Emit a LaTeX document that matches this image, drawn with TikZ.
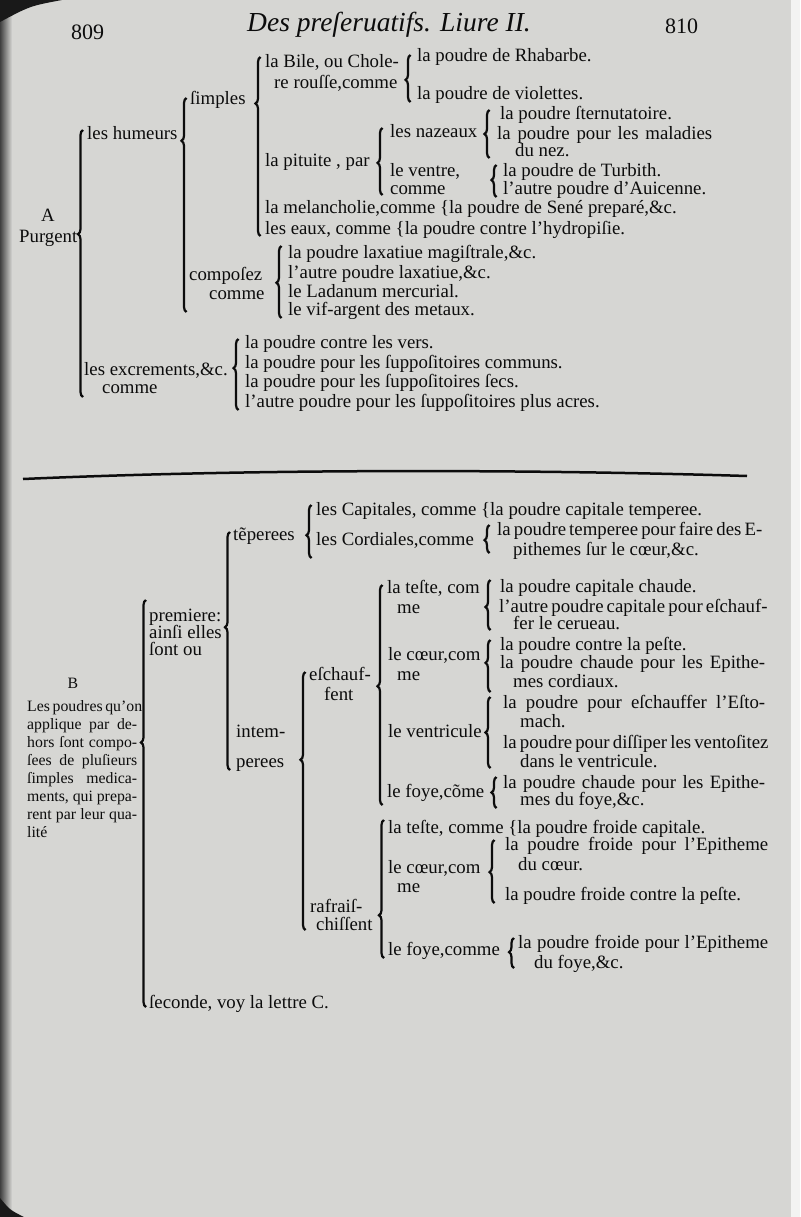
\documentclass[tikz,border=0pt]{standalone}
\usepackage{fontspec}
\setmainfont{Liberation Serif}
\usepackage{xcolor}
\usetikzlibrary{decorations.pathreplacing}

\definecolor{paper}{RGB}{214,214,211}
\definecolor{ink}{RGB}{12,12,12}
\newcommand{\jline}[2]{\makebox[#1][s]{#2}}

\begin{document}
\begin{tikzpicture}[
    x=1pt, y=-1pt,
    txt/.style={anchor=base west, inner sep=0pt, text=ink, font=\fontsize{18.8}{20}\selectfont},
    small/.style={txt, font=\fontsize{15.8}{18}\selectfont},
    brc/.style={decorate, decoration={brace, amplitude=5pt, aspect=#1}, line width=2.2pt, draw=ink},
    brc/.default=0.5
]
\useasboundingbox (0,0) rectangle (800,1217);
\fill[paper] (0,0) rectangle (800,1217);
\shade[left color=black!75, right color=paper] (0,0) rectangle (12,1217);
\fill[black!90] (0,0) -- (62,0) .. controls (30,6) .. (0,22) -- cycle;
\fill[black!90] (0,1217) -- (0,1198) .. controls (10,1210) .. (24,1217) -- cycle;
\fill[white!70!paper] (791,0) rectangle (800,1217);

% running head
\node[txt, font=\fontsize{22}{24}\selectfont] (pg1) at (71,40) {809};
\node[txt, font=\fontsize{27.5}{30}\itshape] (head) at (247,32) {Des preſeruatifs. Liure II.};
\node[txt, font=\fontsize{22}{24}\selectfont] (pg2) at (665,34) {810};

% A : purgent
\node[txt, anchor=base] (A) at (48,222) {A};
\node[txt] (purg) at (19,242) {Purgent};
\node[txt] (hum) at (87,140) {les humeurs};
\node[txt] (simp) at (190,105) {ſimples};
\node[txt] (bile1) at (265,68) {la Bile, ou Chole-};
\node[txt] (bile2) at (274,89) {re rouſſe,comme};
\node[txt] (rhab) at (417,62) {la poudre de Rhabarbe.};
\node[txt] (viol) at (417,100) {la poudre de violettes.};
\node[txt] (pit) at (265,167) {la pituite , par};
\node[txt] (naz) at (390,138) {les nazeaux};
\node[txt] (stern) at (500,120) {la poudre ſternutatoire.};
\node[txt] (mal) at (497,140) {\jline{215pt}{la poudre pour les maladies}};
\node[txt] (nez) at (515,157) {du nez.};
\node[txt] (ven1) at (390,177) {le ventre,};
\node[txt] (ven2) at (390,194) {comme};
\node[txt] (turb) at (503,176) {la poudre de Turbith.};
\node[txt] (auic) at (503,194) {l'autre poudre d'Auicenne.};
\node[txt] (mel) at (265,213) {la melancholie,comme \{la poudre de Sené preparé,\&c.};
\node[txt] (eaux) at (265,234) {les eaux, comme \{la poudre contre l'hydropiſie.};
\node[txt] (comp1) at (189,280) {compoſez};
\node[txt] (comp2) at (209,299) {comme};
\node[txt] (lax1) at (288,258) {la poudre laxatiue magiſtrale,\&c.};
\node[txt] (lax2) at (288,278) {l'autre poudre laxatiue,\&c.};
\node[txt] (lad) at (288,297) {le Ladanum mercurial.};
\node[txt] (vif) at (288,315) {le vif-argent des metaux.};
\node[txt] (exc1) at (84,375) {les excrements,\&c.};
\node[txt] (exc2) at (102,393) {comme};
\node[txt] (vers) at (245,348) {la poudre contre les vers.};
\node[txt] (comm) at (245,368) {la poudre pour les ſuppoſitoires communs.};
\node[txt] (secs) at (245,387) {la poudre pour les ſuppoſitoires ſecs.};
\node[txt] (acres) at (245,407) {l'autre poudre pour les ſuppoſitoires plus acres.};

\coordinate (aB) at (83,397);     \coordinate (aT) at (83,130);
\coordinate (humB) at (186.5,312); \coordinate (humT) at (186.5,98);
\coordinate (simpB) at (260.5,236); \coordinate (simpT) at (260.5,57);
\coordinate (bileB) at (410.5,102); \coordinate (bileT) at (410.5,55);
\coordinate (nazB) at (489.5,158); \coordinate (nazT) at (489.5,110);
\coordinate (pitB) at (382.5,195); \coordinate (pitT) at (382.5,128);
\coordinate (venB) at (496.5,197); \coordinate (venT) at (496.5,165);
\coordinate (compB) at (281.5,318); \coordinate (compT) at (281.5,246);
\coordinate (excB) at (238.5,410); \coordinate (excT) at (238.5,339);

\draw[brc=0.61] (aB) -- (aT);
\draw[brc=0.80] (humB) -- (humT);
\draw[brc=0.74] (simpB) -- (simpT);
\draw[brc=0.47] (bileB) -- (bileT);
\draw[brc=0.50] (nazB) -- (nazT);
\draw[brc=0.48] (pitB) -- (pitT);
\draw[brc=0.53] (venB) -- (venT);
\draw[brc=0.49] (compB) -- (compT);
\draw[brc=0.59] (excB) -- (excT);

% rule
\coordinate (ruleL) at (23,479);
\coordinate (ruleR) at (747,476);
\draw[ink, line width=2.5pt] (ruleL) .. controls (250,469) and (520,469) .. (ruleR);

% B : poudres appliquees par dehors
\node[small, anchor=base] (B) at (73,688) {B};
\node[small] (bp1) at (27,711) {\jline{110pt}{Les poudres qu'on}};
\node[small] (bp2) at (27,729) {\jline{110pt}{applique par de-}};
\node[small] (bp3) at (27,747) {\jline{110pt}{hors ſont compo-}};
\node[small] (bp4) at (27,765) {\jline{110pt}{ſees de pluſieurs}};
\node[small] (bp5) at (27,783) {\jline{110pt}{ſimples medica-}};
\node[small] (bp6) at (27,801) {\jline{110pt}{ments, qui prepa-}};
\node[small] (bp7) at (27,819) {\jline{110pt}{rent par leur qua-}};
\node[small] (bp8) at (27,837) {lité};

\node[txt] (prem1) at (149,621) {premiere:};
\node[txt] (prem2) at (149,638) {ainſi elles};
\node[txt] (prem3) at (149,655) {ſont ou};
\node[txt] (sec) at (149,1008) {ſeconde, voy la lettre C.};

\node[txt] (tem) at (233,540) {tẽperees};
\node[txt] (capit) at (316,515) {les Capitales, comme \{la poudre capitale temperee.};
\node[txt] (cord) at (316,545) {les Cordiales,comme};
\node[txt] (tmp1) at (497,535) {\jline{258pt}{la poudre temperee pour faire des E-}};
\node[txt] (tmp2) at (513,555) {pithemes ſur le cœur,\&c.};

\node[txt] (int1) at (236,737) {intem-};
\node[txt] (int2) at (236,767) {perees};
\node[txt] (esc1) at (309,680) {eſchauf-};
\node[txt] (esc2) at (324,700) {fent};

\node[txt] (tes1) at (387,593) {la teſte, com};
\node[txt] (tes2) at (397,613) {me};
\node[txt] (chau) at (500,592) {la poudre capitale chaude.};
\node[txt] (cap1) at (499,612) {\jline{261pt}{l'autre poudre capitale pour eſchauf-}};
\node[txt] (cap2) at (513,629) {fer le cerueau.};

\node[txt] (cor1) at (388,660) {le cœur,com};
\node[txt] (cor2) at (397,680) {me};
\node[txt] (pes) at (500,650) {la poudre contre la peſte.};
\node[txt] (epi1) at (500,668) {\jline{265pt}{la poudre chaude pour les Epithe-}};
\node[txt] (epi2) at (513,687) {mes cordiaux.};

\node[txt] (vtr) at (388,737) {le ventricule};
\node[txt] (est1) at (503,708) {\jline{262pt}{la poudre pour eſchauffer l'Eſto-}};
\node[txt] (est2) at (520,727) {mach.};
\node[txt] (dis1) at (503,748) {\jline{252pt}{la poudre pour diſſiper les ventoſitez}};
\node[txt] (dis2) at (520,767) {dans le ventricule.};

\node[txt] (foy1) at (387,797) {le foye,cõme};
\node[txt] (epf1) at (503,788) {\jline{262pt}{la poudre chaude pour les Epithe-}};
\node[txt] (epf2) at (520,805) {mes du foye,\&c.};

\node[txt] (raf1) at (310,912) {rafraiſ-};
\node[txt] (raf2) at (316,930) {chiſſent};
\node[txt] (ftes) at (388,833) {la teſte, comme \{la poudre froide capitale.};
\node[txt] (fco1) at (388,873) {le cœur,com};
\node[txt] (fco2) at (397,892) {me};
\node[txt] (fep1) at (505,850) {\jline{263pt}{la poudre froide pour l'Epitheme}};
\node[txt] (fep2) at (518,870) {du cœur.};
\node[txt] (fpes) at (505,900) {la poudre froide contre la peſte.};
\node[txt] (ffo) at (388,955) {le foye,comme};
\node[txt] (ffe1) at (518,948) {\jline{250pt}{la poudre froide pour l'Epitheme}};
\node[txt] (ffe2) at (534,968) {du foye,\&c.};

\coordinate (bB) at (146,1007);     \coordinate (bT) at (146,600);
\coordinate (premB) at (230,770);   \coordinate (premT) at (230,532);
\coordinate (temB) at (311.5,558);  \coordinate (temT) at (311.5,505);
\coordinate (cordB) at (489.5,553); \coordinate (cordT) at (489.5,525);
\coordinate (intB) at (305.5,930);  \coordinate (intT) at (305.5,672);
\coordinate (escB) at (382.5,805);  \coordinate (escT) at (382.5,585);
\coordinate (tesB) at (490.5,630);  \coordinate (tesT) at (490.5,580);
\coordinate (corB) at (490.5,692);  \coordinate (corT) at (490.5,640);
\coordinate (vtrB) at (490.5,768);  \coordinate (vtrT) at (490.5,697);
\coordinate (foyB) at (496.5,808);  \coordinate (foyT) at (496.5,777);
\coordinate (rafB) at (384,958);    \coordinate (rafT) at (384,820);
\coordinate (fcoB) at (494.5,903);  \coordinate (fcoT) at (494.5,840);
\coordinate (ffoB) at (514,968);    \coordinate (ffoT) at (514,938);

\draw[brc=0.65] (bB) -- (bT);
\draw[brc=0.60] (premB) -- (premT);
\draw[brc=0.43] (temB) -- (temT);
\draw[brc=0.46] (cordB) -- (cordT);
\draw[brc=0.66] (intB) -- (intT);
\draw[brc=0.54] (escB) -- (escT);
\draw[brc=0.46] (tesB) -- (tesT);
\draw[brc=0.56] (corB) -- (corT);
\draw[brc=0.50] (vtrB) -- (vtrT);
\draw[brc=0.50] (foyB) -- (foyT);
\draw[brc=0.31] (rafB) -- (rafT);
\draw[brc=0.49] (fcoB) -- (fcoT);
\draw[brc=0.53] (ffoB) -- (ffoT);

\end{tikzpicture}
\end{document}
